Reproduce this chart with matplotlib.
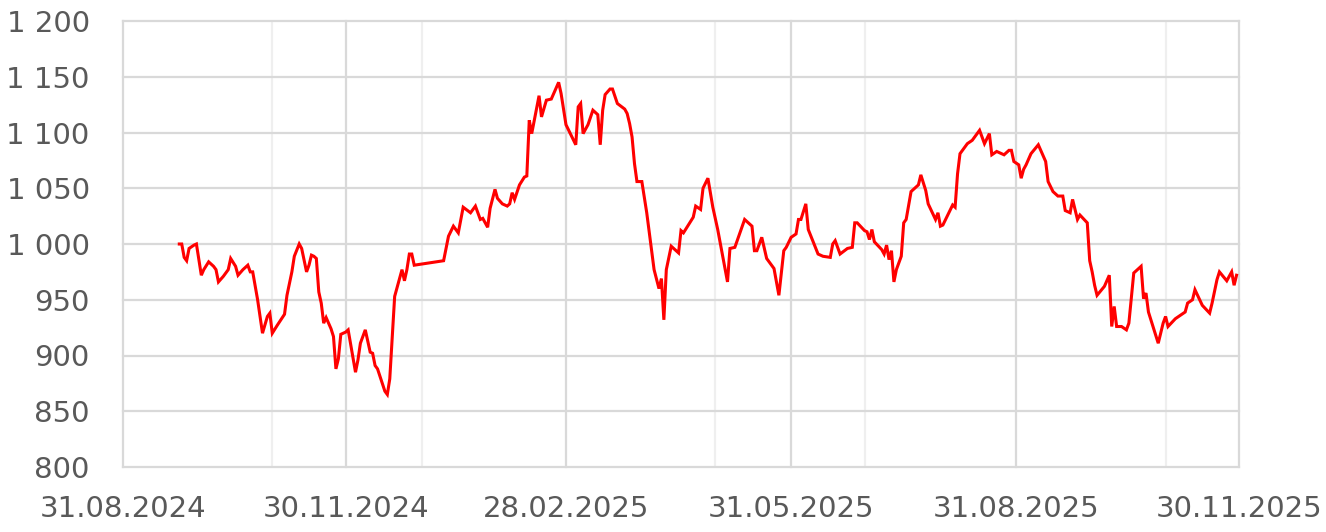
import matplotlib
matplotlib.use("Agg")
import matplotlib.pyplot as plt
import matplotlib.dates as mdates
from matplotlib.ticker import FuncFormatter, FixedLocator
import pandas as pd

# ---- data ----
start_date = "2024-08-31"
end_date = "2025-11-30"

# day number counted from start_date, and index level
day_offset = [
    23, 24, 25, 26, 27, 29, 30, 32, 33, 35, 37, 38, 39, 41, 43, 44, 46, 47, 49, 51,
    52, 53, 55, 57, 59, 60, 61, 63, 66, 67, 69, 70, 72, 73, 75, 76, 77, 78, 79, 80,
    81, 82, 83, 85, 86, 87, 88, 89, 91, 92, 95, 96, 97, 99, 101, 102, 103, 104, 107, 108,
    109, 111, 114, 115, 116, 117, 118, 119, 131, 133, 135, 137, 139, 142, 144, 146, 147, 149, 150, 152,
    153, 155, 157, 158, 159, 160, 162, 164, 165, 166, 167, 170, 171, 173, 175, 178, 179, 181, 185, 186,
    187, 188, 190, 192, 194, 195, 196, 197, 199, 200, 202, 205, 206, 207, 208, 209, 210, 212, 213, 214,
    217, 219, 220, 221, 222, 224, 227, 228, 229, 233, 234, 236, 237, 239, 241, 243, 247, 248, 250, 254,
    257, 258, 259, 261, 263, 264, 266, 268, 270, 271, 273, 275, 276, 277, 279, 280, 284, 286, 289, 290,
    291, 293, 296, 298, 299, 300, 303, 304, 305, 306, 307, 310, 311, 312, 313, 314, 315, 316, 318, 319,
    320, 322, 325, 326, 328, 329, 332, 333, 334, 335, 339, 340, 341, 342, 345, 347, 350, 352, 354, 355,
    357, 360, 362, 363, 364, 366, 367, 368, 369, 371, 374, 377, 378, 380, 382, 384, 385, 387, 388, 390,
    391, 394, 395, 396, 397, 398, 401, 403, 404, 405, 406, 408, 410, 411, 413, 416, 417, 418, 419, 423,
    425, 426, 427, 430, 434, 435, 437, 438, 441, 444, 445, 447, 448, 451, 453, 454, 455,
]
index_value = [
    1000, 1000, 988, 985, 996, 999, 1000, 972, 977, 984, 980, 977, 966, 971, 977, 987, 980, 972, 977, 981,
    975, 975, 950, 920, 935, 938, 920, 927, 937, 954, 975, 989, 1000, 996, 975, 981, 990, 989, 987, 957,
    947, 929, 934, 924, 917, 888, 897, 919, 921, 923, 885, 896, 911, 923, 903, 902, 891, 888, 868, 865,
    879, 953, 977, 967, 977, 991, 991, 981, 985, 1007, 1016, 1010, 1033, 1028, 1034, 1022, 1023, 1015, 1032, 1049,
    1041, 1036, 1034, 1036, 1046, 1040, 1053, 1060, 1061, 1111, 1099, 1133, 1114, 1129, 1130, 1145, 1135, 1107, 1089, 1123,
    1126, 1099, 1107, 1120, 1116, 1089, 1120, 1134, 1139, 1139, 1126, 1121, 1117, 1108, 1096, 1072, 1056, 1056, 1042, 1028,
    977, 960, 969, 932, 977, 998, 992, 1012, 1010, 1024, 1034, 1031, 1050, 1059, 1033, 1013, 966, 996, 997, 1022,
    1016, 994, 994, 1006, 987, 984, 978, 954, 994, 997, 1006, 1009, 1022, 1022, 1036, 1013, 991, 989, 988, 1000,
    1003, 991, 996, 997, 1019, 1019, 1012, 1011, 1004, 1013, 1002, 995, 991, 999, 986, 994, 966, 977, 989, 1019,
    1022, 1047, 1053, 1062, 1048, 1036, 1022, 1028, 1016, 1017, 1035, 1033, 1063, 1081, 1090, 1093, 1102, 1090, 1099, 1080,
    1083, 1080, 1084, 1084, 1074, 1071, 1059, 1067, 1071, 1081, 1089, 1074, 1056, 1047, 1043, 1043, 1030, 1028, 1040, 1022,
    1026, 1019, 985, 975, 963, 954, 962, 972, 926, 944, 926, 926, 923, 929, 974, 980, 951, 956, 939, 911,
    929, 935, 926, 933, 939, 947, 950, 959, 945, 938, 947, 968, 975, 967, 975, 963, 972,
]

major_tick_dates = ["2024-08-31", "2024-11-30", "2025-02-28", "2025-05-31", "2025-08-31", "2025-11-30"]
minor_grid_dates = ["2024-10-31", "2024-12-31", "2025-04-30", "2025-06-30", "2025-10-31"]
y_ticks = [800, 850, 900, 950, 1000, 1050, 1100, 1150, 1200]

# ---- styling ----
TEXT = "#595959"
GRID = "#d9d9d9"
GRID_LIGHT = "#efefef"
LINE = "#ff0000"

plt.rcParams["font.family"] = ["DejaVu Sans"]

dates = pd.Timestamp(start_date) + pd.to_timedelta(day_offset, unit="D")

fig = plt.figure(figsize=(13.26, 5.32), dpi=100)
ax = fig.add_axes([123 / 1326, 1 - 467 / 532, (1239 - 123) / 1326, (467 - 21) / 532])

major_dt = pd.to_datetime(major_tick_dates)
minor_dt = pd.to_datetime(minor_grid_dates)

for d in minor_dt:
    ax.axvline(d, color=GRID_LIGHT, lw=1.6, zorder=1)
for d in major_dt:
    ax.axvline(d, color=GRID, lw=1.6, zorder=1.5, clip_on=False)
for y in y_ticks:
    ax.axhline(y, color=GRID, lw=1.6, zorder=1.2, clip_on=False)

ax.plot(dates, index_value, color=LINE, lw=2.2, zorder=3, solid_joinstyle="miter")

ax.set_xlim(pd.Timestamp(start_date), pd.Timestamp(end_date))
ax.set_ylim(800, 1200)

ax.xaxis.set_major_locator(FixedLocator(mdates.date2num(major_dt)))
ax.xaxis.set_major_formatter(mdates.DateFormatter("%d.%m.%Y"))
ax.yaxis.set_major_locator(FixedLocator(y_ticks))
ax.yaxis.set_major_formatter(FuncFormatter(lambda v, p: f"{v:,.0f}".replace(",", " ")))

ax.tick_params(axis="both", length=0, colors=TEXT, labelsize=21)
ax.tick_params(axis="y", pad=24)
ax.tick_params(axis="x", pad=20)

for s in ax.spines.values():
    s.set_visible(False)

fig.savefig("out.png", dpi=100, facecolor="white")
